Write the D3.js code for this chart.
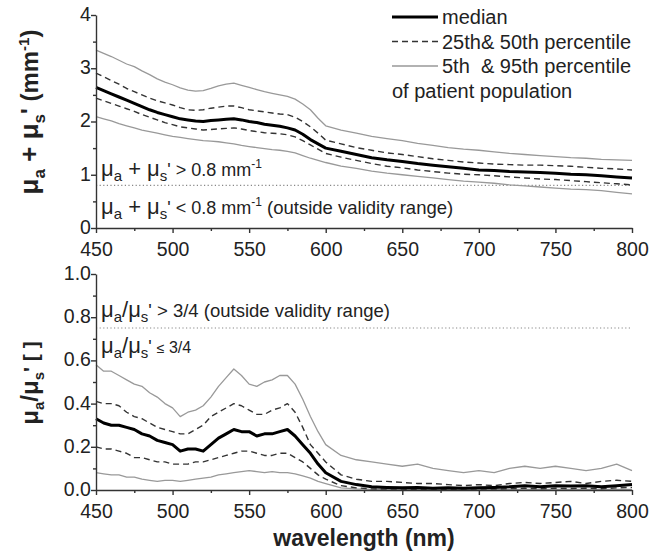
<!DOCTYPE html>
<html>
<head>
<meta charset="utf-8">
<script src="https://cdn.jsdelivr.net/npm/d3@7"></script>
<style>
  body { margin: 0; background: #fff; }
  text { font-family: "Liberation Sans", Arial, sans-serif; fill: #222; }
</style>
</head>
<body>
<div id="chart"></div>
<script>
// wavelength grid (nm)
var wavelength = [450,455,460,465,470,475,480,485,490,495,500,505,510,515,520,525,530,535,540,545,550,555,560,565,570,575,580,585,590,595,600,
                  610,620,630,640,650,660,670,680,690,700,710,720,730,740,750,760,770,780,790,800];

// top panel: mu_a + mu_s' (mm^-1)
var sumP95 = [3.34,3.28,3.22,3.15,3.08,3.03,2.95,2.88,2.80,2.74,2.69,2.63,2.59,2.57,2.58,2.62,2.67,2.70,2.72,2.68,2.64,2.60,2.56,2.53,2.50,2.47,2.42,2.33,2.22,2.06,1.92,
              1.84,1.78,1.72,1.68,1.64,1.59,1.55,1.51,1.48,1.46,1.43,1.40,1.38,1.36,1.34,1.32,1.31,1.29,1.28,1.27];
var sumP75 = [2.91,2.84,2.77,2.70,2.62,2.56,2.50,2.44,2.39,2.35,2.31,2.26,2.22,2.21,2.22,2.25,2.27,2.29,2.29,2.26,2.22,2.20,2.18,2.16,2.14,2.13,2.08,2.00,1.90,1.78,1.65,
              1.58,1.51,1.46,1.41,1.38,1.34,1.30,1.27,1.24,1.22,1.20,1.19,1.18,1.18,1.17,1.16,1.14,1.12,1.11,1.09];
var sumMed = [2.64,2.58,2.52,2.46,2.40,2.34,2.28,2.22,2.17,2.13,2.09,2.05,2.03,2.01,2.00,2.02,2.03,2.04,2.05,2.03,2.00,1.98,1.95,1.93,1.91,1.88,1.84,1.76,1.66,1.58,1.50,
              1.44,1.38,1.32,1.28,1.25,1.21,1.18,1.15,1.12,1.09,1.08,1.06,1.05,1.04,1.03,1.01,1.00,0.98,0.96,0.94];
var sumP25 = [2.44,2.39,2.34,2.29,2.24,2.19,2.13,2.08,2.03,1.98,1.94,1.90,1.88,1.86,1.84,1.85,1.86,1.87,1.88,1.86,1.83,1.81,1.79,1.78,1.77,1.75,1.71,1.64,1.56,1.48,1.40,
              1.33,1.27,1.21,1.16,1.13,1.09,1.06,1.03,1.01,1.00,0.98,0.96,0.94,0.92,0.91,0.89,0.87,0.85,0.83,0.81];
var sumP5 = [2.09,2.05,2.01,1.96,1.92,1.88,1.84,1.81,1.78,1.75,1.72,1.70,1.68,1.66,1.64,1.63,1.62,1.60,1.58,1.55,1.53,1.51,1.49,1.47,1.46,1.44,1.41,1.36,1.31,1.27,1.23,
             1.16,1.12,1.07,1.03,1.00,0.97,0.94,0.91,0.88,0.86,0.84,0.81,0.79,0.77,0.75,0.73,0.72,0.70,0.67,0.64];

// bottom panel: mu_a / mu_s'
var ratioP95 = [0.58,0.55,0.55,0.53,0.51,0.49,0.48,0.45,0.43,0.40,0.38,0.34,0.36,0.37,0.39,0.43,0.48,0.52,0.56,0.53,0.49,0.48,0.50,0.51,0.53,0.53,0.49,0.42,0.34,0.27,0.21,
                0.16,0.14,0.13,0.12,0.11,0.12,0.10,0.09,0.08,0.09,0.08,0.10,0.11,0.10,0.11,0.10,0.09,0.10,0.12,0.09];
var ratioP75 = [0.41,0.40,0.40,0.39,0.36,0.34,0.33,0.31,0.29,0.28,0.27,0.26,0.26,0.28,0.30,0.34,0.36,0.38,0.40,0.39,0.37,0.35,0.35,0.37,0.38,0.40,0.36,0.29,0.21,0.17,0.13,
                0.07,0.05,0.04,0.04,0.035,0.03,0.03,0.025,0.02,0.025,0.02,0.03,0.035,0.03,0.035,0.04,0.03,0.04,0.045,0.04];
var ratioMed = [0.33,0.31,0.30,0.30,0.29,0.28,0.26,0.25,0.23,0.22,0.21,0.18,0.19,0.19,0.18,0.21,0.24,0.26,0.28,0.27,0.27,0.25,0.26,0.26,0.27,0.28,0.25,0.21,0.17,0.12,0.08,
                0.04,0.025,0.015,0.012,0.01,0.012,0.008,0.01,0.008,0.01,0.012,0.015,0.02,0.015,0.02,0.018,0.02,0.015,0.02,0.025];
var ratioP25 = [0.20,0.19,0.19,0.18,0.17,0.15,0.15,0.14,0.13,0.13,0.12,0.12,0.12,0.13,0.13,0.14,0.15,0.16,0.17,0.18,0.18,0.17,0.16,0.16,0.17,0.17,0.15,0.13,0.10,0.07,0.05,
                0.02,0.01,0.005,0.004,0.004,0.003,0.004,0.003,0.004,0.005,0.004,0.006,0.008,0.006,0.008,0.007,0.008,0.006,0.01,0.012];
var ratioP5 = [0.08,0.075,0.07,0.07,0.06,0.06,0.05,0.045,0.04,0.045,0.045,0.04,0.045,0.05,0.055,0.06,0.07,0.075,0.08,0.085,0.09,0.085,0.08,0.085,0.08,0.08,0.075,0.065,0.055,0.04,0.03,
               0.01,0.005,0.003,0.003,0.002,0.002,0.002,0.002,0.002,0.002,0.002,0.003,0.003,0.003,0.003,0.003,0.003,0.003,0.003,0.003];

var xTicks = [450,500,550,600,650,700,750,800];
var xMinor = [475,525,575,625,675,725,775];
var sumTicks = [0,1,2,3,4];
var sumMinor = [0.5,1.5,2.5,3.5];
var ratioTicks = [0,0.2,0.4,0.6,0.8,1.0];
var ratioMinor = [0.1,0.3,0.5,0.7,0.9];
var legendLabels = ["median", "25th& 50th percentile", "5th  & 95th percentile", "of patient population"];

var width = 650, height = 556;
var left = 96, right = 632;

var svg = d3.select("#chart").append("svg")
    .attr("width", width)
    .attr("height", height);

var x = d3.scaleLinear().domain([450, 800]).range([left, right]);

var styles = {
    p5:  {stroke: "#999", width: 1.3, dash: null},
    p25: {stroke: "#333", width: 1.4, dash: "6,4"},
    med: {stroke: "#000", width: 3, dash: null}
};

// text with sub/superscripts: parts = [[text, size, offset]]
function richText(g, px, py, parts, anchor) {
    var t = g.append("text").attr("x", px).attr("y", py)
        .attr("text-anchor", anchor || "start")
        .style("white-space", "pre");
    var cur = 0;
    parts.forEach(function (p) {
        var off = p[2] || 0;
        t.append("tspan").attr("dy", off - cur).attr("font-size", p[1]).text(p[0]);
        cur = off;
    });
    return t;
}

function drawPanel(cfg) {
    var y = d3.scaleLinear().domain(cfg.domain).range([cfg.bottom, cfg.top]);
    var g = svg.append("g");

    // threshold dotted line
    g.append("line")
        .attr("x1", x(450)).attr("x2", x(800))
        .attr("y1", y(cfg.threshold)).attr("y2", y(cfg.threshold))
        .attr("stroke", "#888").attr("stroke-width", 1.2)
        .attr("stroke-dasharray", "1.2,2.4");

    var line = d3.line()
        .x(function (d, i) { return x(wavelength[i]); })
        .y(function (d) { return y(d); });

    cfg.series.forEach(function (s) {
        var st = styles[s.style];
        g.append("path")
            .datum(s.values)
            .attr("d", line)
            .attr("fill", "none")
            .attr("stroke", st.stroke)
            .attr("stroke-width", st.width)
            .attr("stroke-dasharray", st.dash)
            .attr("stroke-linejoin", "round");
    });

    // axes
    var xAxis = g.append("g")
        .attr("transform", "translate(0," + cfg.bottom + ")")
        .call(d3.axisBottom(x).tickValues(xTicks).tickSize(5).tickSizeOuter(0));
    g.append("g")
        .attr("transform", "translate(0," + cfg.bottom + ")")
        .call(d3.axisBottom(x).tickValues(xMinor).tickSize(3).tickFormat("").tickSizeOuter(0))
        .select(".domain").remove();

    var yAxis = g.append("g")
        .attr("transform", "translate(" + left + ",0)")
        .call(d3.axisLeft(y).tickValues(cfg.ticks).tickFormat(cfg.format).tickSize(5).tickSizeOuter(0));
    g.append("g")
        .attr("transform", "translate(" + left + ",0)")
        .call(d3.axisLeft(y).tickValues(cfg.minor).tickSize(3).tickFormat("").tickSizeOuter(0))
        .select(".domain").remove();

    g.selectAll(".domain, .tick line").attr("stroke", "#333").attr("stroke-width", 1.4);
    xAxis.selectAll("text").attr("font-size", 19.5).attr("dy", "1.0em").attr("fill", "#222");
    yAxis.selectAll("text").attr("font-size", 19.5).attr("dx", "0.15em").attr("dy", "0.28em").attr("fill", "#222");
    g.selectAll(".tick text").style("font-family", "'Liberation Sans', Arial, sans-serif");

    return {g: g, y: y};
}

// top panel
var top = drawPanel({
    top: 15, bottom: 228, domain: [0, 4], threshold: 0.8,
    ticks: sumTicks, minor: sumMinor, format: d3.format("d"),
    series: [
        {values: sumP95, style: "p5"},
        {values: sumP5, style: "p5"},
        {values: sumP75, style: "p25"},
        {values: sumP25, style: "p25"},
        {values: sumMed, style: "med"}
    ]
});

// bottom panel
var bot = drawPanel({
    top: 274, bottom: 490, domain: [0, 1], threshold: 0.75,
    ticks: ratioTicks, minor: ratioMinor, format: d3.format(".1f"),
    series: [
        {values: ratioP95, style: "p5"},
        {values: ratioP5, style: "p5"},
        {values: ratioP75, style: "p25"},
        {values: ratioP25, style: "p25"},
        {values: ratioMed, style: "med"}
    ]
});

// annotations in the top panel
richText(svg, 101, 176, [["μ", 22], ["a", 15, 5], [" + μ", 22, 0], ["s", 15, 5], ["' > 0.8 mm", 18, 0], ["-1", 12, -8]]);
richText(svg, 101, 214, [["μ", 22], ["a", 15, 5], [" + μ", 22, 0], ["s", 15, 5], ["' < 0.8 mm", 18, 0], ["-1", 12, -8], [" (outside validity range)", 18.5, 0]]);

// annotations in the bottom panel
richText(svg, 101, 317, [["μ", 22], ["a", 15, 5], ["/μ", 22, 0], ["s", 15, 5], ["' > 3/4 (outside validity range)", 18.5, 0]]);
richText(svg, 101, 353, [["μ", 22], ["a", 15, 5], ["/μ", 22, 0], ["s", 15, 5], ["' ", 18, 0], ["≤", 14, 0], [" 3/4", 16, 0]]);

// legend
var legend = svg.append("g");
var legendStyles = ["med", "p25", "p5"];
legendStyles.forEach(function (k, i) {
    var st = styles[k];
    legend.append("line")
        .attr("x1", 392).attr("x2", 438)
        .attr("y1", 17 + i * 24.5).attr("y2", 17 + i * 24.5)
        .attr("stroke", st.stroke).attr("stroke-width", st.width)
        .attr("stroke-dasharray", st.dash);
});
legendLabels.forEach(function (lab, i) {
    legend.append("text")
        .attr("x", i < 3 ? 442 : 392)
        .attr("y", 17 + i * 24.5)
        .attr("dy", "0.35em")
        .attr("font-size", 20)
        .style("white-space", "pre")
        .text(lab);
});

// axis titles
var t1 = richText(svg, 0, 0, [["μ", 26], ["a", 17, 7], [" + μ", 26, 0], ["s", 17, 7], ["' (mm", 24, 0], ["-1", 15, -9], [")", 24, 0]], "middle");
t1.attr("transform", "translate(38,112) rotate(-90)").attr("font-weight", "bold");

var t2 = richText(svg, 0, 0, [["μ", 24], ["a", 15, 6], ["/μ", 24, 0], ["s", 15, 6], ["' [ ]", 21, 0]], "middle");
t2.attr("transform", "translate(38,383) rotate(-90)").attr("font-weight", "bold");

svg.append("text")
    .attr("x", (left + right) / 2)
    .attr("y", 546)
    .attr("text-anchor", "middle")
    .attr("font-size", 23)
    .attr("font-weight", "bold")
    .text("wavelength (nm)");
</script>
</body>
</html>
